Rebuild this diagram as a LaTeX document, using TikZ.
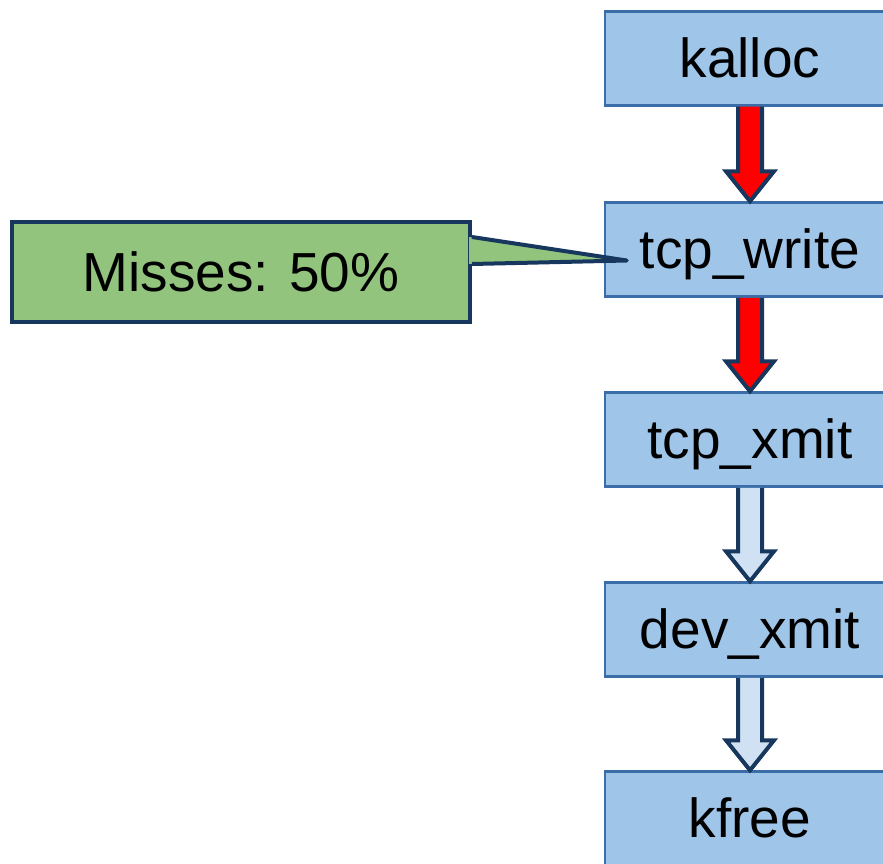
\documentclass[tikz,border=0pt]{standalone}
\usepackage{fontspec}
\setmainfont{Liberation Sans}
\usetikzlibrary{calc}
\definecolor{boxfill}{HTML}{9FC5E8}
\definecolor{boxline}{HTML}{3B6EA8}
\definecolor{navy}{HTML}{17375E}
\definecolor{hotred}{HTML}{FF0000}
\definecolor{palearrow}{HTML}{CFE1F2}
\definecolor{notegreen}{HTML}{93C47D}
\tikzset{
  fnbox/.style={draw=boxline, line width=2.5pt, fill=boxfill, rectangle,
    minimum width=290pt, minimum height=94pt, inner sep=0pt,
    text height=38pt, text depth=0pt,
    font=\fontsize{55}{60}\selectfont},
  blockarrow/.style={draw=navy, line width=4pt, line join=miter},
  noteline/.style={draw=navy, line width=4pt, line join=round},
}
% block arrow from the bottom of #2 to the top of #3, filled with #1
\newcommand\flowarrow[3]{%
  \draw[blockarrow, fill=#1]
    ($(#2.south)+(-12,0)$) -- ($(#3.north)+(-12,-30)$) -- ($(#3.north)+(-24,-30)$)
    -- (#3.north)
    -- ($(#3.north)+(24,-30)$) -- ($(#3.north)+(12,-30)$) -- ($(#2.south)+(12,0)$);
}
\begin{document}
\begin{tikzpicture}[x=1pt, y=-1pt]
  \useasboundingbox (0,0) rectangle (883,864);
  \clip (0,0) rectangle (883,864);

  % call chain
  \node[fnbox] (kalloc) at (750,58.5)  {kalloc};
  \node[fnbox] (tcpw)   at (750,249.5) {tcp\_write};
  \node[fnbox] (tcpx)   at (750,439.5) {tcp\_xmit};
  \node[fnbox] (devx)   at (750,629.5) {dev\_xmit};
  \node[fnbox] (kfree)  at (750,818.5) {kfree};

  \flowarrow{hotred}{kalloc}{tcpw}
  \flowarrow{hotred}{tcpw}{tcpx}
  \flowarrow{palearrow}{tcpx}{devx}
  \flowarrow{palearrow}{devx}{kfree}

  % callout attached to tcp_write
  \node[draw=navy, line width=4pt, fill=notegreen, rectangle,
        minimum width=458pt, minimum height=100pt, inner sep=0pt,
        text height=38pt, text depth=0pt,
        font=\fontsize{55}{60}\selectfont] (miss) at (241,272) {Misses: 50\%};
  \coordinate (tip) at ($(tcpw.west)+(23,11)$);
  \fill[notegreen] ($(miss.north east)+(-3,17)$) -- (tip) -- ($(miss.north east)+(-3,44)$) -- cycle;
  \draw[noteline] ($(miss.north east)+(0,17)$) -- (tip) -- ($(miss.north east)+(0,44)$);
\end{tikzpicture}
\end{document}
